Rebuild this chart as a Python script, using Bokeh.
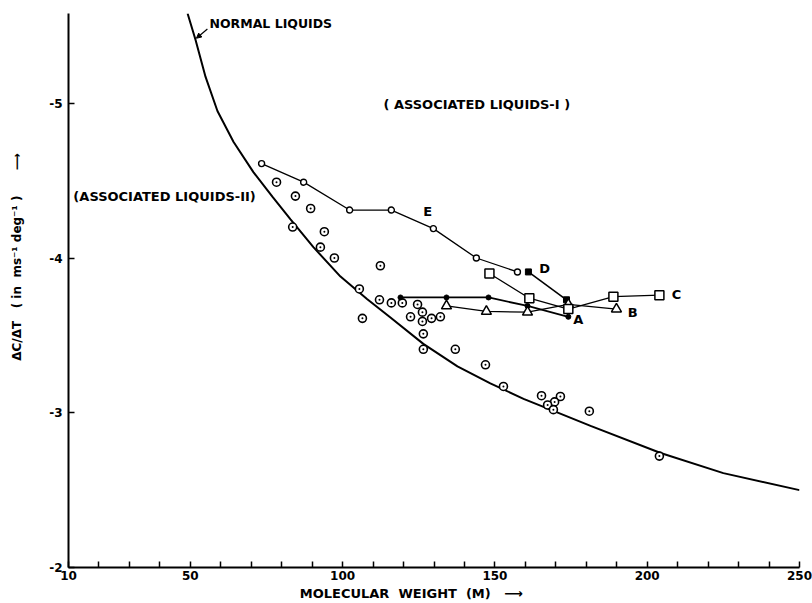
from bokeh.plotting import figure
from bokeh.models import Range1d, FixedTicker, Arrow, NormalHead
from bokeh.core.properties import value
from bokeh.embed import file_html
from bokeh.resources import INLINE

# Normal liquids curve
curve_m = [49.1, 51.7, 55.0, 58.9, 64.2, 70.7, 77.0, 82.9, 90.4, 99.3, 108.0,
           115.7, 126.5, 137.7, 148.5, 159.4, 168.2, 181.4, 204.4, 225.0, 250.0]
curve_v = [-5.58, -5.41, -5.17, -4.95, -4.75, -4.555, -4.395, -4.25, -4.07, -3.88, -3.735,
           -3.615, -3.445, -3.30, -3.19, -3.09, -3.02, -2.915, -2.74, -2.61, -2.50]

# Individual liquids (circle with dot)
scatter_m = [78.3, 84.5, 83.6, 89.5, 94.0, 92.7, 97.3, 112.4, 105.5, 112.1, 116.0,
             119.6, 124.6, 106.5, 122.3, 126.2, 126.2, 129.2, 132.1, 126.5, 126.5,
             137.0, 146.9, 152.8, 165.3, 171.5, 169.6, 167.3, 169.2, 181.0, 204.0]
scatter_v = [-4.49, -4.40, -4.20, -4.32, -4.17, -4.07, -4.00, -3.95, -3.80, -3.73, -3.71,
             -3.71, -3.70, -3.61, -3.62, -3.65, -3.59, -3.61, -3.62, -3.51, -3.41,
             -3.41, -3.31, -3.17, -3.11, -3.105, -3.07, -3.05, -3.02, -3.01, -2.72]

# Series A-E
e_m = [73.4, 87.2, 102.3, 116.0, 129.8, 143.9, 157.4]
e_v = [-4.61, -4.49, -4.31, -4.31, -4.19, -4.00, -3.91]
d_m = [161.0, 173.5]
d_v = [-3.91, -3.73]
a_m = [119.0, 134.1, 147.9, 160.7, 174.1]
a_v = [-3.745, -3.745, -3.745, -3.69, -3.62]
b_m = [134.1, 147.2, 160.7, 174.1, 189.9]
b_v = [-3.69, -3.655, -3.65, -3.70, -3.67]
c_m = [148.2, 161.3, 174.1, 188.9, 204.0]
c_v = [-3.90, -3.74, -3.67, -3.75, -3.76]

x_ticks = [10, 50, 100, 150, 200, 250]
x_minor = [20, 30, 40, 60, 70, 80, 90, 110, 120, 130, 140, 160, 170, 180, 190,
           210, 220, 230, 240]
y_ticks = [-2, -3, -4, -5]

FONT = "DejaVu Sans"
NB = "\u00a0"

p = figure(width=812, height=603, output_backend="svg", toolbar_location=None,
           x_range=Range1d(10, 250), y_range=Range1d(-2, -5.58),
           min_border_left=68, min_border_right=13, min_border_top=13,
           min_border_bottom=36)
p.outline_line_color = None
p.grid.visible = False
p.background_fill_color = "white"
p.border_fill_color = "white"

# axes
p.xaxis.ticker = FixedTicker(ticks=x_ticks, minor_ticks=x_minor)
p.yaxis.ticker = FixedTicker(ticks=y_ticks)
p.yaxis.major_label_overrides = {t: str(t) for t in y_ticks}
for ax in (p.xaxis, p.yaxis):
    ax.axis_line_width = 2
    ax.axis_line_color = "black"
    ax.major_tick_in = 6
    ax.major_tick_out = 0
    ax.minor_tick_in = 6
    ax.minor_tick_out = 0
    ax.major_tick_line_width = 1.5
    ax.minor_tick_line_width = 1.5
    ax.major_label_text_font = FONT
    ax.major_label_text_font_style = "bold"
    ax.major_label_text_font_size = "12px"
    ax.major_label_text_color = "black"
    ax.axis_label_text_font = FONT
    ax.axis_label_text_font_style = "bold"
    ax.axis_label_text_font_size = "12px"
    ax.axis_label_text_color = "black"
p.xaxis.major_label_standoff = 3
p.xaxis.axis_label_standoff = 3
p.yaxis.major_label_standoff = 6
p.yaxis.axis_label_standoff = 22
p.xaxis.axis_label = ("MOLECULAR" + NB * 2 + "WEIGHT" + NB * 2 + "(M)" + NB * 3 + "\u27f6"
                      + NB * 10)
p.yaxis.axis_label = (NB * 16 + "\u0394C/\u0394T" + NB * 3 + "(" + NB + "in" + NB * 2
                      + "ms\u207b\u00b9" + NB + "deg\u207b\u00b9" + NB + ")" + NB * 6
                      + "\u27f6")
p.xaxis.axis_label_text_font_size = "13px"

# normal liquids curve
p.line(curve_m, curve_v, line_color="black", line_width=2)

# scatter
p.scatter(scatter_m, scatter_v, marker="circle_dot", size=8, line_color="black",
          line_width=1.6, fill_color="white")

# E
p.line(e_m, e_v, line_color="black", line_width=1.3)
p.scatter(e_m, e_v, marker="circle", size=6, line_color="black", line_width=1.4,
          fill_color="white")
# D
p.line(d_m, d_v, line_color="black", line_width=1.6)
p.scatter(d_m, d_v, marker="square", size=6, line_color="black", fill_color="black")
# A
p.line(a_m, a_v, line_color="black", line_width=1.8)
p.scatter(a_m, a_v, marker="circle", size=5, line_color="black", fill_color="black")
# B
p.line(b_m, b_v, line_color="black", line_width=1.3)
p.scatter(b_m, b_v, marker="triangle", size=10, line_color="black", line_width=1.5,
          fill_color="white")
# C
p.line(c_m, c_v, line_color="black", line_width=1.3)
p.scatter(c_m, c_v, marker="square", size=9, line_color="black", line_width=1.5,
          fill_color="white")

# text annotations
txt = dict(text_font=value(FONT), text_font_style="bold", text_color="black",
           text_baseline="middle")
p.text(x=[56.3], y=[-5.516], text=["NORMAL LIQUIDS"], text_font_size="12.5px",
       text_align="left", **txt)
p.text(x=[113.4], y=[-4.99], text=["( ASSOCIATED LIQUIDS-I )"], text_font_size="13px",
       text_align="left", **txt)
p.text(x=[11.6], y=[-4.40], text=["(ASSOCIATED LIQUIDS-II)"], text_font_size="13px",
       text_align="left", **txt)
p.text(x=[127.9, 166.3, 209.6, 195.2, 177.4], y=[-4.30, -3.93, -3.765, -3.65, -3.60],
       text=["E", "D", "C", "B", "A"], text_font_size="13px", text_align="center",
       **txt)

p.add_layout(Arrow(end=NormalHead(size=5, fill_color="black", line_color="black"),
                   x_start=55.6, y_start=-5.48, x_end=52.0, y_end=-5.42,
                   line_color="black", line_width=1.2))

open("out.html", "w").write(file_html(p, INLINE))
